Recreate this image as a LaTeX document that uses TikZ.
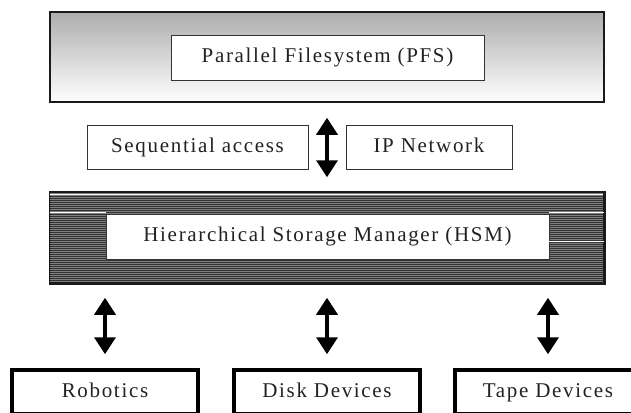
\documentclass[tikz,border=0pt]{standalone}
\usepackage{fontspec}
\setmainfont{Liberation Serif}[LetterSpace=8]
\usetikzlibrary{arrows.meta, positioning, calc}
\definecolor{EdgeBlack}{HTML}{1A1A1A}
\definecolor{ShadeGray}{HTML}{ADADAD}
\definecolor{StripeDark}{HTML}{333333}
\definecolor{StripeLight}{HTML}{7E7E7E}
\definecolor{TextGray}{HTML}{222222}
\tikzset{
  layer/.style={draw=EdgeBlack, line width=1.5pt, minimum width=554pt, inner sep=0pt},
  labelbox/.style={draw=black!80, line width=0.8pt, fill=white, inner sep=0pt, minimum height=45pt, text height=14pt, text depth=4pt, font=\fontsize{21}{24}\selectfont, text=TextGray},
  device/.style={draw=black, line width=3.5pt, fill=white, minimum width=186pt, minimum height=44pt, inner sep=0pt, text height=14pt, text depth=4pt, font=\fontsize{21}{24}\selectfont, text=TextGray},
  twoway/.style={{Triangle[width=21pt,length=17pt]}-{Triangle[width=21pt,length=17pt]}, line width=3.5pt, draw=black}
}

\begin{document}
\begin{tikzpicture}[x=1pt, y=-1pt]
\useasboundingbox (0,0) rectangle (631,412);
\clip (0,0) rectangle (631,412);
% parallel filesystem layer
\node[layer, minimum height=90pt, top color=ShadeGray, bottom color=white] (pfs) at (327,57) {};
\node[labelbox, minimum width=313pt] (pfslabel) at (327.5,57.5) {Parallel Filesystem (PFS)};
% access paths
\node[labelbox, minimum width=221pt, minimum height=44pt] (seq) at (197.5,147) {Sequential access};
\node[labelbox, minimum width=166pt, minimum height=44pt] (ipnet) at (429,147) {IP Network};
% storage manager layer
\node[layer, minimum height=91pt, fill=StripeDark] (hsm) at (327,237.5) {};
\foreach \dy in {2,4,...,90}
  \draw[StripeLight, line width=0.6pt] (hsm.north west) ++(0.75,\dy) -- ++(552.5,0);
\draw[white, line width=0.9pt] (hsm.north west) ++(0.75,3) -- ++(552.5,0);
\node[labelbox, minimum width=443pt] (hsmlabel) at (327.5,236.5) {Hierarchical Storage Manager (HSM)};
\draw[white, line width=0.9pt] (hsmlabel.north west -| hsm.west) ++(0.75,-1) -- ($(hsmlabel.north west)+(0,-1)$);
\draw[white, line width=0.9pt] (hsmlabel.north east) ++(0,-1) -- ($(hsmlabel.north east -| hsm.east)+(-0.75,-1)$);
\draw[white, line width=0.9pt] ($(hsmlabel.east)+(0,5)$) -- ($(hsmlabel.east -| hsm.east)+(-0.75,5)$);
\draw[EdgeBlack, line width=1.5pt] (hsm.north west) rectangle (hsm.south east);
% devices
\node[device] (robotics) at (105,392) {Robotics};
\node[device] (disk) at (327,392) {Disk Devices};
\node[device] (tape) at (548,392) {Tape Devices};
\draw[twoway, shorten <=15pt, shorten >=14pt] (pfs.south) -- (hsm.north);
\foreach \dev in {robotics, disk, tape}
  \draw[twoway, shorten <=14pt, shorten >=14pt] (hsm.south -| \dev.north) -- (\dev.north);
\end{tikzpicture}
\end{document}
